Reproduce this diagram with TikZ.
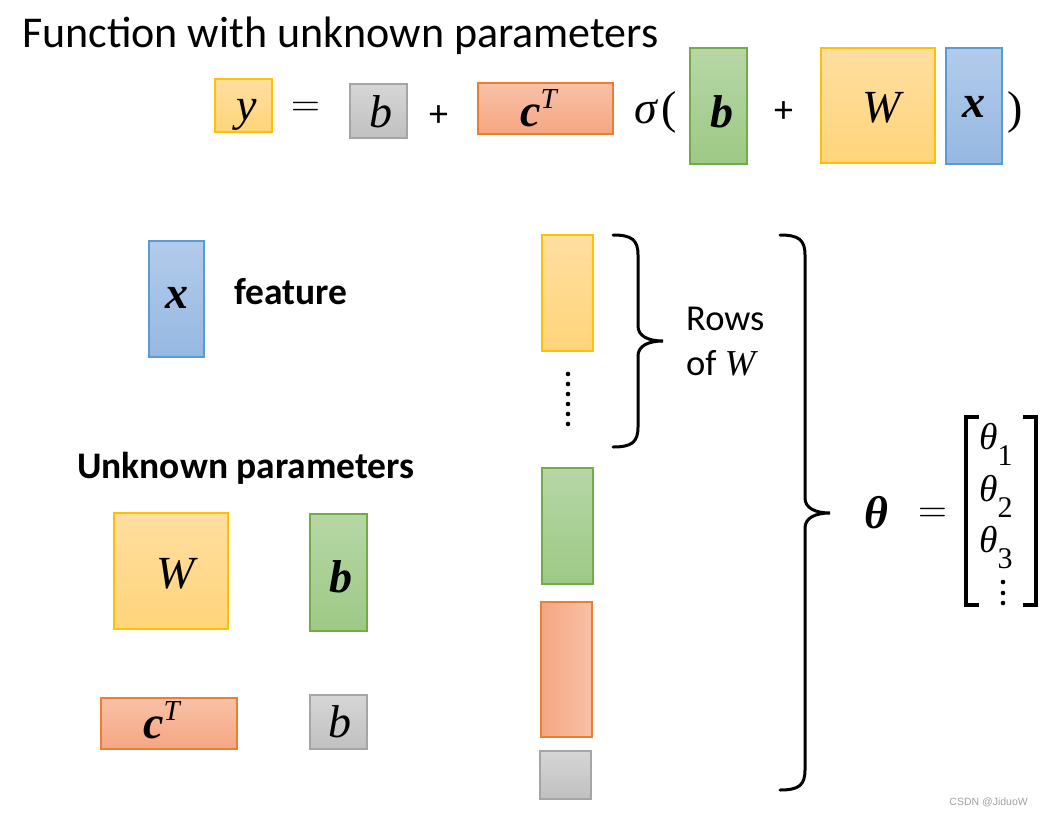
\RequirePackage{fix-cm}
\documentclass[tikz,border=0pt]{standalone}
\usepackage{amsmath}
\usepackage[no-math]{fontspec}
\setmainfont{Carlito}
\newfontfamily\mf{Liberation Serif}
\newfontfamily\wmfont{Liberation Sans}
\definecolor{yT}{RGB}{255,222,160}
\definecolor{yB}{RGB}{255,212,122}
\definecolor{yD}{RGB}{255,192,0}
\definecolor{gT}{RGB}{214,214,214}
\definecolor{gB}{RGB}{192,192,192}
\definecolor{gD}{RGB}{165,165,165}
\definecolor{oT}{RGB}{248,193,167}
\definecolor{oB}{RGB}{245,166,130}
\definecolor{oD}{RGB}{237,125,49}
\definecolor{grT}{RGB}{183,215,166}
\definecolor{grB}{RGB}{157,201,133}
\definecolor{grD}{RGB}{112,173,71}
\definecolor{bT}{RGB}{179,203,235}
\definecolor{bB}{RGB}{149,184,226}
\definecolor{bD}{RGB}{91,155,213}
\definecolor{wmc}{RGB}{160,160,160}
\newcommand{\supT}{\raisebox{18pt}{\mdseries\fontsize{29}{34}\selectfont T}}
\newcommand{\subd}[1]{\raisebox{-16pt}{\upshape\fontsize{30}{36}\selectfont #1}}
\begin{document}
\begin{tikzpicture}[x=1pt,y=-1pt,
  eqs/.style={font=\fontsize{40}{48}\selectfont, inner sep=0, anchor=base},
  mi/.style={font=\mf\itshape\fontsize{46}{52}\selectfont, inner sep=0, anchor=base},
  mb/.style={font=\mf\bfseries\itshape\fontsize{46}{52}\selectfont, inner sep=0, anchor=base},
  mup/.style={font=\mf\fontsize{46}{52}\selectfont, inner sep=0, anchor=base west},
  mat/.style={font=\mf\itshape\fontsize{37.5}{42}\selectfont, inner sep=0, anchor=base west},
  ttl/.style={font=\fontsize{44}{52}\selectfont, inner sep=0},
  lbl/.style={font=\fontsize{37.5}{44}\selectfont\bfseries, inner sep=0},
  rowsf/.style={font=\fontsize{36.5}{44}\selectfont, inner sep=0},
  plus/.style={font=\fontsize{38}{44}\selectfont, inner sep=0},
  wm/.style={font=\wmfont\fontsize{10.5}{12}\selectfont, text=wmc, inner sep=0},
  cell/.style={line width=1.2pt, inner sep=0},
  ybox/.style={cell, draw=yD, top color=yT, bottom color=yB},
  gbox/.style={cell, draw=gD, top color=gT, bottom color=gB},
  obox/.style={cell, draw=oD, top color=oT, bottom color=oB},
  oboxh/.style={cell, draw=oD, left color=oB, right color=oT},
  grbox/.style={cell, draw=grD, top color=grT, bottom color=grB},
  bbox/.style={cell, draw=bD, top color=bT, bottom color=bB},
  brace/.style={line width=3pt, line cap=round},
  bracket/.style={line width=4pt}
]
\useasboundingbox (0,0) rectangle (1063,814);
% title
\node[ttl, anchor=base west] (title) at (22,47) {Function with unknown parameters};
% top formula
\node[ybox, minimum width=57, minimum height=53] (ytop) at (243.5,105.5) {};
\node[mi] (ytopt) at (246.5,120) {y};
\node[eqs] (eq1) at (305.5,116) {$=$};
\node[gbox, minimum width=57, minimum height=54] (btop) at (378.5,111) {};
\node[mi] (btopt) at (381,127) {b};
\node[plus] (p1) at (438.5,116.5) {+};
\node[obox, minimum width=135, minimum height=51] (ctop) at (545.5,108.5) {};
\node[mb, anchor=base west] (ctopt) at (520,126) {c\supT};
\node[mup] (sig) at (634,123) {{\itshape σ}\kern5pt(};
\node[grbox, minimum width=57, minimum height=116] (b2top) at (718.5,106) {};
\node[mb] (b2topt) at (721.5,127) {b};
\node[plus] (p2) at (783.5,112.5) {+};
\node[ybox, minimum width=114, minimum height=115] (Wtop) at (878,105.5) {};
\node[mi] (Wtopt) at (882,122) {W};
\node[bbox, minimum width=56, minimum height=116] (xtop) at (974,106) {};
\node[mb] (xtopt) at (974,117) {x};
\node[mup] (rp) at (1007,123) {)};
% left part
\node[bbox, minimum width=55, minimum height=116] (xfeat) at (176.5,299) {};
\node[mb] (xfeatt) at (176.5,308) {x};
\node[lbl, anchor=base west] (feat) at (234,304) {feature};
\node[lbl, anchor=base west] (unk) at (77,478) {Unknown parameters};
\node[ybox, minimum width=114, minimum height=116] (Wl) at (171,571) {};
\node[mi] (Wlt) at (176,588) {W};
\node[grbox, minimum width=57, minimum height=117] (bl) at (338.5,572.5) {};
\node[mb] (blt) at (340.5,592) {b};
\node[obox, minimum width=136, minimum height=51] (cl) at (169,723.5) {};
\node[mb, anchor=base west] (clt) at (143,738) {c\supT};
\node[gbox, minimum width=57, minimum height=54] (bgl) at (338.5,722) {};
\node[mi] (bglt) at (340,737) {b};
% middle column
\node[ybox, minimum width=51, minimum height=116] (r1) at (567.5,293) {};
\foreach \i in {0,...,5} \fill (568,374+10*\i) circle (2.3);
\node[grbox, minimum width=51, minimum height=116] (r2) at (567.5,526) {};
\node[oboxh, minimum width=51, minimum height=135] (r3) at (566.5,669.5) {};
\node[gbox, minimum width=51, minimum height=48] (r4) at (565.5,775) {};
% small brace
\draw[brace] (613,235) .. controls (632,235) and (638,240) .. (638,255) -- (638,326)
  .. controls (638,336) and (648,341) .. (663,341)
  .. controls (648,341) and (638,346) .. (638,356) -- (638,427)
  .. controls (638,442) and (632,447) .. (613,447);
\node[rowsf, anchor=base west] (rows) at (686,330) {Rows};
\node[rowsf, anchor=base west] (ofw) at (686,375) {of {\mf\itshape W}};
% big brace
\draw[brace] (780,235) .. controls (799,235) and (805,240) .. (805,255) -- (805,498)
  .. controls (805,508) and (815,513) .. (830,513)
  .. controls (815,513) and (805,518) .. (805,528) -- (805,770)
  .. controls (805,785) and (799,790) .. (780,790);
% theta
\node[mb, anchor=base west] (th) at (864,528) {θ};
\node[eqs] (eq2) at (932.5,522) {$=$};
\draw[bracket] (979,417) -- (966,417) -- (966,605) -- (979,605);
\draw[bracket] (1023,417) -- (1036,417) -- (1036,605) -- (1023,605);
\node[mat] (t1) at (979,449) {θ\subd{1}};
\node[mat] (t2) at (979,501) {θ\subd{2}};
\node[mat] (t3) at (979,552) {θ\subd{3}};
\foreach \yy in {582,593,603} \fill (1003,\yy) circle (2.3);
% watermark
\node[wm, anchor=base east] (wmk) at (1028,805) {CSDN @JiduoW};
\end{tikzpicture}
\end{document}
